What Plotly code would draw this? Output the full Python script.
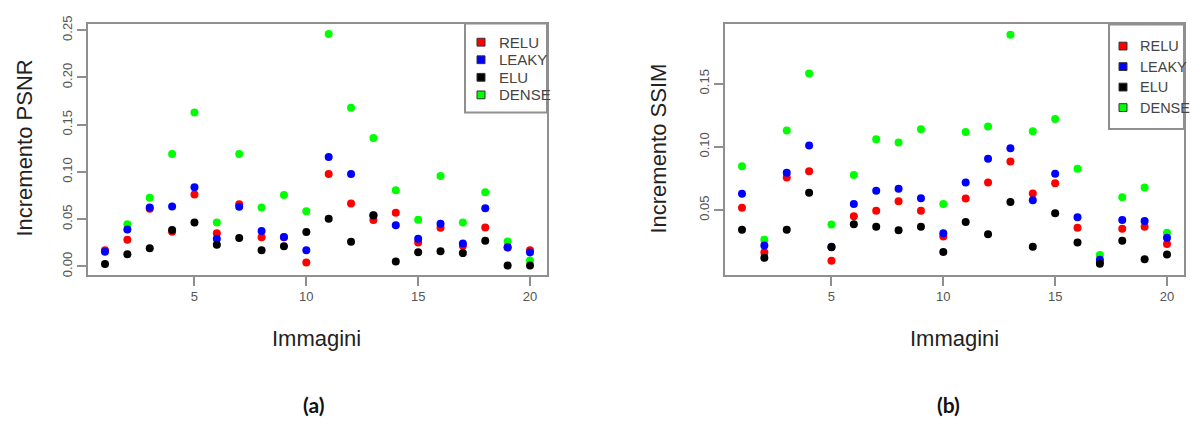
import plotly.graph_objects as go

W, H = 1192, 424

immagini = list(range(1, 21))
series_names = ["RELU", "LEAKY", "ELU", "DENSE"]
series_colors = ["#FF0000", "#0000FF", "#000000", "#00FF00"]

# Panel (a): Incremento PSNR
psnr_relu = [0.0172, 0.0282, 0.0610, 0.0367, 0.0762, 0.0350, 0.0659, 0.0309, 0.0310, 0.0041,
             0.0979, 0.0666, 0.0491, 0.0567, 0.0254, 0.0409, 0.0220, 0.0412, 0.0200, 0.0172]
psnr_leaky = [0.0155, 0.0391, 0.0625, 0.0635, 0.0838, 0.0292, 0.0632, 0.0374, 0.0312, 0.0172,
              0.1157, 0.0979, 0.0540, 0.0436, 0.0292, 0.0453, 0.0244, 0.0615, 0.0203, 0.0148]
psnr_elu = [0.0027, 0.0130, 0.0192, 0.0385, 0.0464, 0.0230, 0.0302, 0.0172, 0.0213, 0.0364,
            0.0505, 0.0261, 0.0543, 0.0052, 0.0151, 0.0161, 0.0141, 0.0271, 0.0010, 0.0010]
psnr_dense = [0.0160, 0.0446, 0.0728, 0.1190, 0.1630, 0.0464, 0.1190, 0.0625, 0.0755, 0.0584,
              0.2460, 0.1680, 0.1360, 0.0807, 0.0495, 0.0958, 0.0464, 0.0786, 0.0264, 0.0062]

# Panel (b): Incremento SSIM
ssim_relu = [0.0518, 0.0164, 0.0757, 0.0808, 0.0100, 0.0452, 0.0495, 0.0569, 0.0495, 0.0291,
             0.0592, 0.0719, 0.0884, 0.0632, 0.0712, 0.0360, 0.0090, 0.0352, 0.0368, 0.0231]
ssim_leaky = [0.0630, 0.0220, 0.0795, 0.1010, 0.0210, 0.0548, 0.0653, 0.0668, 0.0594, 0.0317,
              0.0719, 0.0907, 0.0989, 0.0577, 0.0788, 0.0444, 0.0108, 0.0421, 0.0413, 0.0282]
ssim_elu = [0.0345, 0.0123, 0.0345, 0.0637, 0.0207, 0.0388, 0.0368, 0.0340, 0.0368, 0.0169,
            0.0406, 0.0309, 0.0564, 0.0210, 0.0475, 0.0243, 0.0075, 0.0258, 0.0111, 0.0149]
ssim_dense = [0.0846, 0.0266, 0.1130, 0.1580, 0.0385, 0.0777, 0.1060, 0.1034, 0.1139, 0.0548,
              0.1118, 0.1162, 0.1887, 0.1123, 0.1220, 0.0826, 0.0144, 0.0602, 0.0678, 0.0320]

x_ticks = [5, 10, 15, 20]
psnr_ticks = [0.00, 0.05, 0.10, 0.15, 0.20, 0.25]
ssim_ticks = [0.05, 0.10, 0.15]
panel_labels = ["(a)", "(b)"]
y_titles = ["Incremento PSNR", "Incremento SSIM"]
x_title = "Immagini"

def px(x):
    return x / W

def py(y):
    return 1 - y / H

fig = go.Figure()

panels = [
    dict(data=[psnr_relu, psnr_leaky, psnr_elu, psnr_dense], xa="x", ya="y"),
    dict(data=[ssim_relu, ssim_leaky, ssim_elu, ssim_dense], xa="x2", ya="y2"),
]
draw_order = [3, 0, 1, 2]  # DENSE underneath, ELU on top
for p in panels:
    for i in draw_order:
        fig.add_trace(go.Scatter(
            x=immagini, y=p["data"][i], mode="markers", name=series_names[i],
            marker=dict(color=series_colors[i], size=8, line=dict(width=0)),
            xaxis=p["xa"], yaxis=p["ya"], showlegend=False,
        ))

axis_line = "#8f8f8f"
tick_font = dict(family="Liberation Sans, Arial, sans-serif", size=13, color="#555555")

common_x = dict(range=[0.24, 20.76], tickvals=x_ticks, ticks="outside", ticklen=9,
                tickwidth=1.5, tickcolor=axis_line, showline=True, linecolor=axis_line,
                linewidth=2, mirror=True, showgrid=False, zeroline=False, tickfont=tick_font)
common_y = dict(ticks="outside", ticklen=9, tickwidth=1.5, tickcolor=axis_line,
                showline=True, linecolor=axis_line, linewidth=2, mirror=True,
                showgrid=False, zeroline=False, tickfont=tick_font, tickangle=-90,
                tickformat=".2f")

ydom = [py(273), py(16)]
fig.update_layout(
    width=W, height=H,
    margin=dict(l=0, r=0, t=0, b=0),
    paper_bgcolor="white", plot_bgcolor="white",
    xaxis=dict(domain=[px(88), px(547)], anchor="y", **common_x),
    yaxis=dict(domain=ydom, anchor="x", range=[-0.0086, 0.257], tickvals=psnr_ticks, **common_y),
    xaxis2=dict(domain=[px(725), px(1184)], anchor="y2", **common_x),
    yaxis2=dict(domain=ydom, anchor="x2", range=[-0.001, 0.1975], tickvals=ssim_ticks, **common_y),
    showlegend=False,
)

title_font = dict(family="Liberation Sans, Arial, sans-serif", size=22, color="#222222")
ann = []
# y titles
ann.append(dict(text=y_titles[0], x=px(25), y=py(144), xref="paper", yref="paper",
                textangle=-90, showarrow=False, font=title_font, xanchor="center", yanchor="middle"))
ann.append(dict(text=y_titles[1], x=px(659), y=py(144), xref="paper", yref="paper",
                textangle=-90, showarrow=False, font=title_font, xanchor="center", yanchor="middle"))
# x titles
for cx in [316, 954]:
    ann.append(dict(text=x_title, x=px(cx), y=py(338), xref="paper", yref="paper",
                    showarrow=False, font=title_font, xanchor="center", yanchor="middle"))
# panel labels
lab_font = dict(family="Lato, Open Sans, sans-serif", size=21, color="#111111")
for cx, lab in zip([313, 948], panel_labels):
    ann.append(dict(text="<b>%s</b>" % lab, x=px(cx), y=py(406), xref="paper", yref="paper",
                    showarrow=False, font=lab_font, xanchor="center", yanchor="middle"))

# manual legends
shapes = []
legends = [
    dict(box=(465, 16, 547, 107), sq_x=481, txt_x=497, rows=[35, 53, 71, 89], fs=15),
    dict(box=(1109, 17, 1184, 124), sq_x=1123, txt_x=1138, rows=[39, 60, 81, 102], fs=14.5),
]
for lg in legends:
    leg_font = dict(family="Liberation Sans, Arial, sans-serif", size=lg["fs"], color="#444444")
    x0, y0, x1, y1 = lg["box"]
    shapes.append(dict(type="rect", xref="paper", yref="paper",
                       x0=px(x0), x1=px(x1), y0=py(y1), y1=py(y0),
                       line=dict(color=axis_line, width=2), fillcolor="white", layer="below"))
    for i, ry in enumerate(lg["rows"]):
        s = 4
        shapes.append(dict(type="rect", xref="paper", yref="paper",
                           x0=px(lg["sq_x"] - s), x1=px(lg["sq_x"] + s),
                           y0=py(ry + s), y1=py(ry - s),
                           line=dict(color="#333333", width=1), fillcolor=series_colors[i],
                           layer="above"))
        ann.append(dict(text=series_names[i], x=px(lg["txt_x"]), y=py(ry), xref="paper",
                        yref="paper", showarrow=False, font=leg_font,
                        xanchor="left", yanchor="middle"))

fig.update_layout(annotations=ann, shapes=shapes)

fig.write_html("out.html", config={"displayModeBar": False},
               post_script="document.body.style.margin='0';document.body.style.overflow='hidden';")
